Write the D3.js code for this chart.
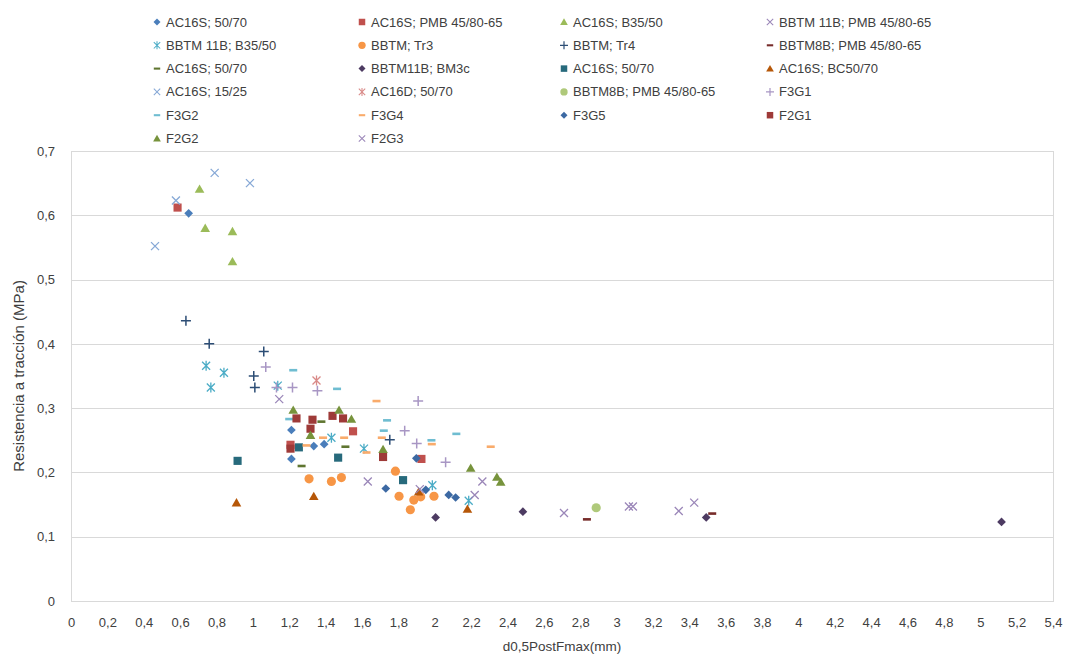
<!DOCTYPE html>
<html>
<head>
<meta charset="utf-8">
<script src="https://cdn.jsdelivr.net/npm/d3@7"></script>
<style>
  body { margin: 0; background: #fff; }
  text { font-family: "Liberation Sans", Arial, sans-serif; fill: #404040; }
</style>
</head>
<body>
<script>
// series names as they appear in the legend
var seriesNames = [
  "AC16S; 50/70", "AC16S; PMB 45/80-65", "AC16S; B35/50", "BBTM 11B; PMB 45/80-65",
  "BBTM 11B; B35/50", "BBTM; Tr3", "BBTM; Tr4", "BBTM8B; PMB 45/80-65",
  "AC16S; 50/70", "BBTM11B; BM3c", "AC16S; 50/70", "AC16S; BC50/70",
  "AC16S; 15/25", "AC16D; 50/70", "BBTM8B; PMB 45/80-65", "F3G1",
  "F3G2", "F3G4", "F3G5", "F2G1",
  "F2G2", "F2G3"
];

// [d0.5PostFmax (mm), resistencia (MPa)]
var ac16s5070 = [[0.647, 0.603], [1.212, 0.266], [1.212, 0.221], [1.335, 0.241], [1.392, 0.244]];
var ac16sPmb = [[0.586, 0.612], [1.551, 0.264], [1.207, 0.243], [1.927, 0.221]];
var ac16sB3550 = [[0.707, 0.641], [0.738, 0.580], [0.888, 0.575], [0.888, 0.528]];
var bbtm11bPmb = [[2.711, 0.137], [3.068, 0.147], [3.090, 0.147], [3.342, 0.140], [3.427, 0.153]];
var bbtm11bB3550 = [[0.743, 0.366], [0.841, 0.355], [0.769, 0.332], [1.137, 0.335], [1.432, 0.254],
                    [1.611, 0.237], [1.987, 0.180], [2.187, 0.156]];
var bbtmTr3 = [[1.309, 0.190], [1.432, 0.186], [1.487, 0.192], [1.784, 0.202], [1.804, 0.163],
               [1.866, 0.142], [1.885, 0.157], [1.923, 0.162], [1.996, 0.163]];
var bbtmTr4 = [[0.632, 0.436], [0.760, 0.400], [1.060, 0.388], [1.005, 0.350], [1.011, 0.332], [1.753, 0.251]];
var bbtm8bPmb = [[2.837, 0.127], [3.526, 0.136]];
var ac16s5070b = [[1.268, 0.210], [1.377, 0.279], [1.509, 0.240]];
var bbtm11bBm3c = [[2.005, 0.130], [2.485, 0.139], [3.493, 0.130], [5.117, 0.123]];
var ac16s5070c = [[0.916, 0.218], [1.253, 0.239], [1.469, 0.223], [1.826, 0.188]];
var ac16sBc5070 = [[0.910, 0.153], [1.335, 0.163], [1.912, 0.170], [2.180, 0.143]];
var ac16s1525 = [[0.790, 0.666], [0.984, 0.650], [0.577, 0.623], [0.462, 0.552]];
var ac16d5070 = [[1.350, 0.343]];
var bbtm8bPmbb = [[2.888, 0.145]];
var f3g1 = [[1.071, 0.364], [1.130, 0.332], [1.218, 0.332], [1.355, 0.327], [1.909, 0.311],
            [1.835, 0.265], [1.901, 0.245], [2.060, 0.216]];
var f3g2 = [[1.222, 0.359], [1.463, 0.330], [1.200, 0.283], [1.738, 0.281], [1.720, 0.265],
            [1.982, 0.250], [2.119, 0.260]];
var f3g4 = [[1.295, 0.242], [1.386, 0.254], [1.502, 0.254], [1.625, 0.231], [1.680, 0.311],
            [1.709, 0.254], [1.984, 0.244], [2.308, 0.240]];
var f3g5 = [[1.731, 0.175], [1.899, 0.222], [1.951, 0.173], [2.077, 0.165], [2.115, 0.161]];
var f2g1 = [[1.240, 0.284], [1.328, 0.282], [1.317, 0.268], [1.438, 0.288], [1.496, 0.284],
            [1.207, 0.237], [1.716, 0.224]];
var f2g2 = [[1.222, 0.297], [1.317, 0.258], [1.474, 0.297], [1.542, 0.283], [1.716, 0.236],
            [2.198, 0.207], [2.342, 0.193], [2.363, 0.185]];
var f2g3 = [[1.145, 0.314], [1.632, 0.186], [1.918, 0.174], [2.220, 0.165], [2.262, 0.186]];

var xTicks = d3.range(0, 5.41, 0.2);
var yTicks = [0, 0.1, 0.2, 0.3, 0.4, 0.5, 0.6, 0.7];

var seriesData = [ac16s5070, ac16sPmb, ac16sB3550, bbtm11bPmb, bbtm11bB3550, bbtmTr3, bbtmTr4,
  bbtm8bPmb, ac16s5070b, bbtm11bBm3c, ac16s5070c, ac16sBc5070, ac16s1525, ac16d5070, bbtm8bPmbb,
  f3g1, f3g2, f3g4, f3g5, f2g1, f2g2, f2g3];

// marker shape and colour for each series
var shapes = ["diamond", "square", "triangle", "x", "star", "circle", "plus", "dash",
  "dash", "diamond", "square", "triangle", "x", "star", "circle", "plus",
  "dash", "dash", "diamond", "square", "triangle", "x"];
var colors = ["#4a7ebb", "#c0504d", "#9bbb59", "#9a86b8", "#4bacc6", "#f79646", "#2c4d75", "#772c2a",
  "#5f7530", "#4d3b62", "#276a7c", "#b65708", "#86a8d6", "#d98a88", "#afc97a", "#a896c4",
  "#6fbdd1", "#f9ab6b", "#3c69a3", "#9e3a38", "#77933c", "#9a86b8"];

var w = 1070, h = 655;
var plotL = 71, plotR = 1053, plotT = 151, plotB = 601;

var svg = d3.select("body").append("svg")
  .attr("width", w)
  .attr("height", h);

var xScale = d3.scaleLinear().domain([0, 5.4]).range([plotL, plotR]);
var yScale = d3.scaleLinear().domain([0, 0.7]).range([plotB, plotT]);

var fmt = function(d) { return d3.format(".1~f")(d).replace(".", ","); };

// gridlines
svg.append("g")
  .selectAll("line")
  .data(yTicks)
  .enter()
  .append("line")
  .attr("x1", plotL)
  .attr("x2", plotR)
  .attr("y1", function(d) { return Math.round(yScale(d)) + 0.5; })
  .attr("y2", function(d) { return Math.round(yScale(d)) + 0.5; })
  .attr("stroke", "#d9d9d9")
  .attr("stroke-width", 1);

svg.append("rect")
  .attr("x", plotL + 0.5)
  .attr("y", plotT + 0.5)
  .attr("width", plotR - plotL)
  .attr("height", plotB - plotT)
  .attr("fill", "none")
  .attr("stroke", "#d9d9d9");

var xAxis = d3.axisBottom(xScale).tickValues(xTicks).tickSize(0).tickPadding(17).tickFormat(fmt);
var yAxis = d3.axisLeft(yScale).tickValues(yTicks).tickSize(0).tickPadding(16).tickFormat(fmt);

svg.append("g")
  .attr("transform", "translate(0," + plotB + ")")
  .call(xAxis)
  .call(function(g) { g.select(".domain").remove(); })
  .selectAll("text")
  .attr("font-size", "13px")
  .attr("font-family", "Liberation Sans, Arial, sans-serif")
  .attr("fill", "#404040");

svg.append("g")
  .attr("transform", "translate(" + plotL + ",0)")
  .call(yAxis)
  .call(function(g) { g.select(".domain").remove(); })
  .selectAll("text")
  .attr("font-size", "13px")
  .attr("font-family", "Liberation Sans, Arial, sans-serif")
  .attr("fill", "#404040");

svg.append("text")
  .attr("x", (plotL + plotR) / 2)
  .attr("y", 651)
  .attr("text-anchor", "middle")
  .attr("font-size", "13.5px")
  .text("d0,5PostFmax(mm)");

svg.append("text")
  .attr("transform", "translate(24," + (plotT + plotB) / 2 + ") rotate(-90)")
  .attr("text-anchor", "middle")
  .attr("font-size", "15px")
  .text("Resistencia a tracción (MPa)");

function drawMarker(g, shape, color) {
  if (shape === "diamond") {
    g.append("path").attr("d", d3.symbol(d3.symbolSquare, 38)())
      .attr("transform", "rotate(45)").attr("fill", color);
  } else if (shape === "square") {
    g.append("path").attr("d", d3.symbol(d3.symbolSquare, 66)()).attr("fill", color);
  } else if (shape === "triangle") {
    g.append("path").attr("d", d3.symbol(d3.symbolTriangle, 40)())
      .attr("transform", "translate(0,1)").attr("fill", color);
  } else if (shape === "circle") {
    g.append("path").attr("d", d3.symbol(d3.symbolCircle, 66)()).attr("fill", color);
  } else if (shape === "x") {
    g.append("path").attr("d", "M-4,-4L4,4M-4,4L4,-4")
      .attr("stroke", color).attr("stroke-width", 1.3).attr("fill", "none");
  } else if (shape === "plus") {
    g.append("path").attr("d", "M-5,0L5,0M0,-5L0,5")
      .attr("stroke", color).attr("stroke-width", 1.5).attr("fill", "none");
  } else if (shape === "star") {
    g.append("path").attr("d", "M-4,-4L4,4M-4,4L4,-4M0,-5L0,5")
      .attr("stroke", color).attr("stroke-width", 1.3).attr("fill", "none");
  } else if (shape === "dash") {
    g.append("rect").attr("x", -4).attr("y", -1.3).attr("width", 8).attr("height", 2.6)
      .attr("fill", color);
  }
}

// points
seriesData.forEach(function(data, i) {
  svg.append("g")
    .selectAll("g")
    .data(data)
    .enter()
    .append("g")
    .attr("transform", function(d) {
      return "translate(" + xScale(d[0]) + "," + yScale(d[1]) + ")";
    })
    .each(function() { drawMarker(d3.select(this), shapes[i], colors[i]); });
});

// legend, 4 columns
var legX = [157, 362, 564, 770];
var legend = svg.append("g")
  .selectAll("g")
  .data(seriesNames)
  .enter()
  .append("g")
  .attr("transform", function(d, i) {
    return "translate(" + legX[i % 4] + "," + (22 + Math.floor(i / 4) * 23.3) + ")";
  });

legend.each(function(d, i) {
  var g = d3.select(this).append("g").attr("transform", "scale(0.8)");
  drawMarker(g, shapes[i], colors[i]);
});

legend.append("text")
  .attr("x", 9)
  .attr("y", 4.5)
  .attr("font-size", "13px")
  .text(function(d) { return d; });
</script>
</body>
</html>
